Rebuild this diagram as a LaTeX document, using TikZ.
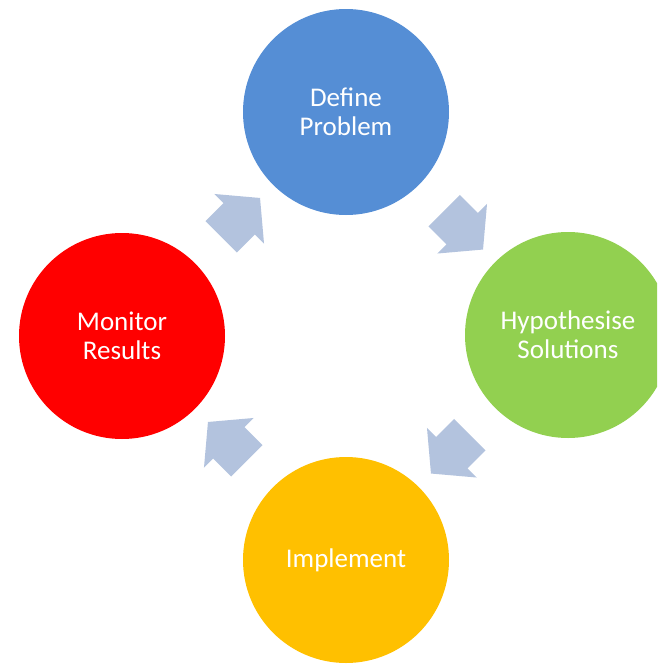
\documentclass[tikz,border=0pt]{standalone}
\usepackage{fontspec}
\setmainfont{Carlito}
\usetikzlibrary{shapes.arrows,calc}

\definecolor{stepblue}{HTML}{558ED5}
\definecolor{stepgreen}{HTML}{92D050}
\definecolor{stepyellow}{HTML}{FFC000}
\definecolor{stepred}{HTML}{FF0000}
\definecolor{flowgrey}{HTML}{B3C3DE}

\tikzset{
    stage/.style={circle, minimum size=206pt, inner sep=0pt, align=center,
        text=white, font=\fontsize{27}{29}\selectfont},
    flow/.style={single arrow, fill=flowgrey, inner xsep=0pt, inner ysep=22pt,
        minimum height=55pt, single arrow head extend=13pt,
        single arrow tip angle=100}
}

\begin{document}
\begin{tikzpicture}[x=1pt, y=1pt]
    \clip (0,0) rectangle (657,-664);
    \useasboundingbox (0,0) rectangle (657,-664);

    % Stages of the cycle
    \node[stage, fill=stepblue] (def) at (346,-112) {Define\\Problem};
    \node[stage, fill=stepgreen] (hyp) at (568,-335) {Hypothesise\\Solutions};
    \node[stage, fill=stepyellow] (imp) at (346,-560) {Implement};
    \node[stage, fill=stepred] (mon) at (122,-336) {Monitor\\Results};

    % Arrows between the stages
    \node[flow, rotate=-45] (a1) at ($(def)!0.5!(hyp)$) {};
    \node[flow, rotate=-135] (a2) at ($(hyp)!0.5!(imp)$) {};
    \node[flow, rotate=135] (a3) at ($(imp)!0.5!(mon)$) {};
    \node[flow, rotate=45] (a4) at ($(mon)!0.5!(def)$) {};
\end{tikzpicture}
\end{document}
